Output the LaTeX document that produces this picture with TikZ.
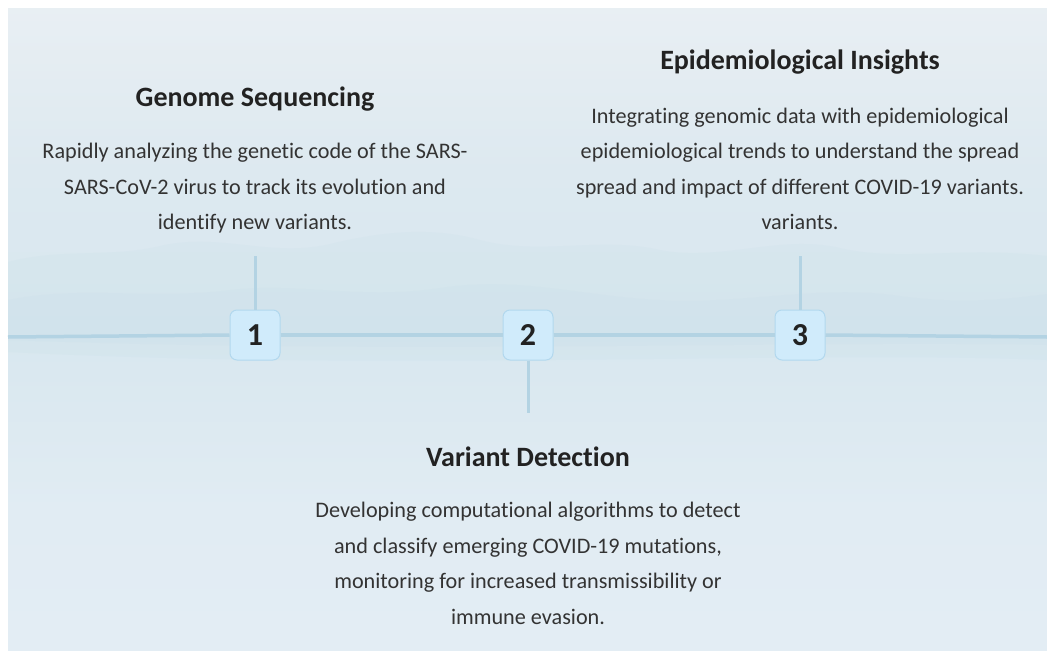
\documentclass[tikz,border=0pt]{standalone}
\usepackage{fontspec}
\setmainfont{Carlito}[Ligatures={NoCommon}]
\definecolor{skytop}{HTML}{EFF1F5}
\definecolor{skyhigh}{HTML}{EBF0F4}
\definecolor{skymid}{HTML}{DDE9F0}
\definecolor{skyband}{HTML}{D8E7EF}
\definecolor{skylow}{HTML}{E1ECF3}
\definecolor{skybottom}{HTML}{E8EFF7}
\definecolor{ridge}{HTML}{C4DCE8}
\definecolor{axisblue}{HTML}{B3D3E3}
\definecolor{boxfill}{HTML}{D0EBFB}
\definecolor{boxedge}{HTML}{B2D8EE}
\definecolor{titleink}{HTML}{222222}
\definecolor{bodyink}{HTML}{333333}
\pgfdeclareverticalshading{sky}{100bp}{%
  color(0bp)=(skybottom);
  color(35.8bp)=(skylow);
  color(49.8bp)=(skyband);
  color(62.3bp)=(skymid);
  color(77.9bp)=(skyhigh);
  color(100bp)=(skytop)}
\tikzset{
  numbox/.style={draw=boxedge, line width=1pt, fill=boxfill, rounded corners=7pt,
    minimum width=50pt, minimum height=50pt, inner sep=0pt,
    text=titleink, font=\fontsize{32}{32}\selectfont\bfseries},
  axis/.style={draw=axisblue, line width=3.5pt},
  stem/.style={draw=axisblue, line width=3pt},
  heading/.style={text=titleink, font=\fontsize{28}{28}\selectfont\bfseries, inner sep=0pt},
  body/.style={text=bodyink, align=center, inner sep=0pt,
    font=\fontsize{22.2}{35.5}\selectfont}
}
\begin{document}
\begin{tikzpicture}[x=1pt,y=-1pt]
  % page and misty panel
  \fill[white] (0,0) rectangle (1047,653);
  \useasboundingbox (0,0) rectangle (1047,653);
  \shade[shading=sky] (8,8) rectangle (1047,650);
  % faint mountain ridges in the haze
  \begin{scope}
    \clip (8,8) rectangle (1047,650);
    \fill[ridge, opacity=0.16]
      (8,262) .. controls (60,248) and (110,258) .. (160,246)
      .. controls (220,232) and (270,258) .. (330,244)
      .. controls (380,232) and (430,226) .. (480,240)
      .. controls (540,256) and (600,236) .. (660,250)
      .. controls (720,262) and (780,234) .. (840,248)
      .. controls (900,262) and (960,246) .. (1047,256)
      -- (1047,360) .. controls (800,350) and (400,372) .. (8,352) -- cycle;
    \fill[ridge, opacity=0.16]
      (8,300) .. controls (80,285) and (150,300) .. (230,290)
      .. controls (300,282) and (360,300) .. (440,288)
      .. controls (520,276) and (580,296) .. (660,300)
      .. controls (740,305) and (820,284) .. (900,296)
      .. controls (960,304) and (1000,300) .. (1047,294)
      -- (1047,345) .. controls (800,340) and (400,355) .. (8,340) -- cycle;
  \end{scope}
  % axis ends
  \coordinate (axL) at (8,337);
  \coordinate (axR) at (1047,337);
  % stem ends
  \coordinate (s1) at (255,256);
  \coordinate (s2) at (528,413);
  \coordinate (s3) at (800,256);
  % numbered markers
  \node[numbox] (n1) at (255,335) {1};
  \node[numbox] (n2) at (528,335) {2};
  \node[numbox] (n3) at (800,335) {3};
  % connectors
  \draw[axis] (axL) -- (n1.west);
  \draw[axis] (n1.east) -- (n2.west);
  \draw[axis] (n2.east) -- (n3.west);
  \draw[axis] (n3.east) -- (axR);
  \draw[stem] (n1.north) -- (s1);
  \draw[stem] (n2.south) -- (s2);
  \draw[stem] (n3.north) -- (s3);
  % step 1
  \node[heading] (h1) at (255,99) {Genome Sequencing};
  \node[body] (b1) at (255,188.5) {Rapidly analyzing the genetic code of the SARS-\\SARS-CoV-2 virus to track its evolution and\\identify new variants.};
  % step 2
  \node[heading] (h2) at (528,457) {Variant Detection};
  \node[body] (b2) at (528,563.5) {Developing computational algorithms to detect\\and classify emerging COVID-19 mutations,\\monitoring for increased transmissibility or\\immune evasion.};
  % step 3
  \node[heading] (h3) at (800,62) {Epidemiological Insights};
  \node[body] (b3) at (800,169) {Integrating genomic data with epidemiological\\epidemiological trends to understand the spread\\spread and impact of different COVID-19 variants.\\variants.};
\end{tikzpicture}
\end{document}
